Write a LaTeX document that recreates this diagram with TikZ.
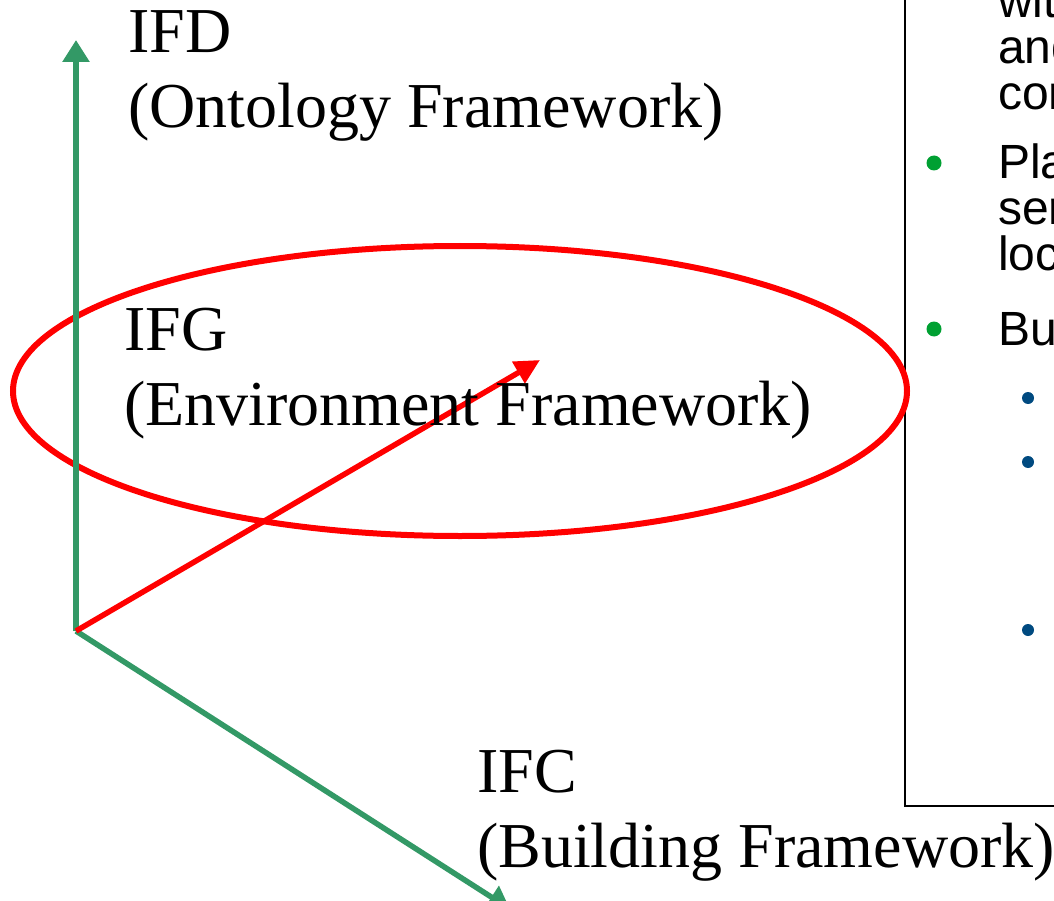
\documentclass[tikz,border=0pt]{standalone}
\usepackage{fontspec}
\setmainfont{Liberation Serif}
\newfontfamily\boxfont{Liberation Sans}
\usetikzlibrary{arrows.meta}
\definecolor{axisgreen}{HTML}{339966}
\definecolor{bulletgreen}{HTML}{00A032}
\definecolor{bulletblue}{HTML}{004A80}
\tikzset{
	axis/.style={draw=axisgreen, line width=5.5pt, -{Triangle[length=22pt,width=26pt]}},
	envarrow/.style={draw=red, line width=5.5pt, -{Triangle[length=25pt,width=24pt]}},
	framelabel/.style={anchor=base west, inner sep=0pt, align=left,
			font=\fontsize{64}{75}\selectfont},
	boxtext/.style={anchor=base west, inner sep=0pt, align=left,
			font=\boxfont\fontsize{48}{46}\selectfont}
}

\begin{document}
\begin{tikzpicture}[x=1pt, y=-1pt]
    \useasboundingbox (0,0) rectangle (1054,901);
    \clip (0,0) rectangle (1054,901);
    % side panel
    \draw [line width=2pt] (1070,-20) -| (905,806) -- (1070,806);
    \fill [bulletgreen] (934,163) circle (7.5);
    \fill [bulletgreen] (934,329) circle (7.5);
    \foreach \y in {398,462,630} {
        \fill [bulletblue] (1028,\y) circle (6);
    }
    % base anchor sits on the last line
    \node (wit) [boxtext] at (998,110) {wit\\and\\con};
    \node (pla) [boxtext] at (998,270) {Pla\\ser\\loc};
    \node (bu) [boxtext] at (998,345) {Bu};
    % axes
    \coordinate (origin) at (76,631);
    \coordinate (ifdtip) at (76,40);
    \coordinate (ifctip) at (510,909);
    \coordinate (ifgtip) at (540,360);
    \draw [red, line width=6pt] (460,391) ellipse (447 and 145);
    \draw [axis] (origin) -- (ifdtip);
    \draw [axis] (origin) -- (ifctip);
    \draw [envarrow] (origin) -- (ifgtip);
    \node (ifd) [framelabel] at (128,128) {IFD\\(Ontology Framework)};
    \node (ifg) [framelabel] at (124,425) {IFG\\(Environment Framework)};
    \node (ifc) [framelabel] at (477,867) {IFC\\(Building Framework)};
\end{tikzpicture}
\end{document}
